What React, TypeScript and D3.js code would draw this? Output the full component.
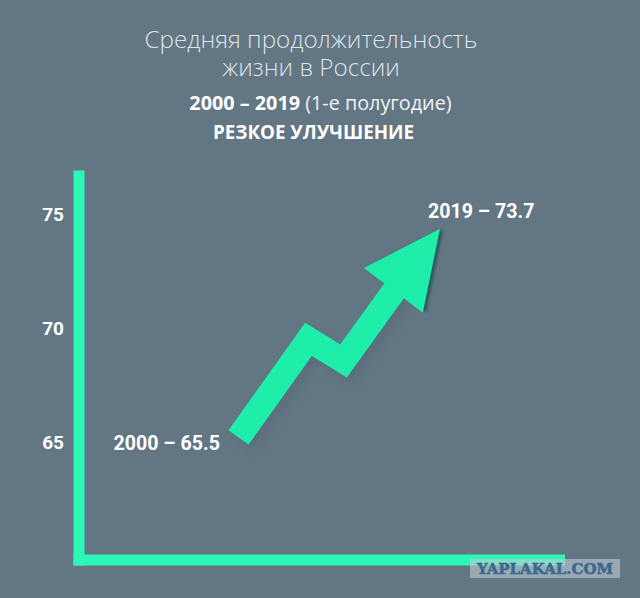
import { useEffect, useRef } from 'react'
import * as d3 from 'd3'

// values, the arrow's centre line
const years = [2000, 2006.6, 2009.9, 2015.25]
const lifeSpan = [65.2, 69.5, 68.55, 72.0]
const headBase = { year: 2014.6, value: 71.65 }
const headTip = { year: 2019, value: 74.35 }
const yTicks = [65, 70, 75]
const endLabels = ['2000 – 65.5', '2019 – 73.7']

const width = 640
const height = 598
const MINT = '#2bf7b7'
const ARROW = '#1feeab'

const x = d3.scaleLinear().domain([2000, 2019]).range([238.5, 440])
const y = d3.scaleLinear().domain([65, 75]).range([442, 214])

const App = () => {
  const axisRef = useRef<SVGGElement>(null)

  useEffect(() => {
    if (!axisRef.current) return
    document.body.style.margin = '0'
    const g = d3.select(axisRef.current)
    g.selectAll('*').remove()
    g.call(d3.axisLeft(y).tickValues(yTicks).tickSize(0).tickPadding(0))
    g.select('.domain').remove()
    g.selectAll('text')
      .style('font-family', 'Roboto')
      .style('font-size', '19px')
      .style('font-weight', '700')
      .style('fill', '#ffffff')
  }, [])

  const shaft = d3
    .line<number>()
    .x((d) => x(d))
    .y((_, i) => y(lifeSpan[i]))(years)!

  // head is a triangle square to the line base -> tip
  const bx = x(headBase.year)
  const by = y(headBase.value)
  const tx = x(headTip.year)
  const ty = y(headTip.value)
  const len = Math.hypot(tx - bx, ty - by)
  const px = (-(ty - by) / len) * 37
  const py = ((tx - bx) / len) * 37
  const head = d3.line()([
    [tx, ty],
    [bx + px, by + py],
    [bx - px, by - py],
  ])! + 'Z'

  return (
    <svg width={width} height={height} style={{ display: 'block' }} fontFamily="'Open Sans'">
      <defs>
        <filter id="soft" x="-30%" y="-30%" width="160%" height="160%">
          <feGaussianBlur stdDeviation="5" />
        </filter>
        <filter id="tight" x="-30%" y="-30%" width="160%" height="160%">
          <feGaussianBlur stdDeviation="1.5" />
        </filter>
      </defs>
      <rect width={width} height={height} fill="#637684" />

      <g textAnchor="middle">
        <text x={311} y={48} fontSize={24.2} fontWeight={300} fill="#dfe5e8">
          Средняя продолжительность
        </text>
        <text x={311} y={76} fontSize={24.2} fontWeight={300} fill="#dfe5e8">
          жизни в России
        </text>
        <text x={320.5} y={110} fontSize={19.8} fill="#f2f4f5">
          <tspan fontWeight={700} fill="#ffffff">2000 – 2019</tspan> (1-е полугодие)
        </text>
        <text x={313.5} y={139} fontSize={18.8} fontWeight={700} fill="#ffffff">
          РЕЗКОЕ УЛУЧШЕНИЕ
        </text>
      </g>

      <g ref={axisRef} transform="translate(64,0)" />

      {/* axis bars */}
      <rect x={73.5} y={170.5} width={11} height={395} fill={MINT} />
      <rect x={73.5} y={554.5} width={491.5} height={11} fill={MINT} />

      {/* arrow shadow */}
      <g fill="none" opacity={0.14} transform="translate(5,7)" filter="url(#soft)">
        <path d={shaft} stroke="#2e3f4a" strokeWidth={24.7} strokeLinejoin="miter" />
      </g>
      <path d={head} fill="#0c4f48" opacity={0.75} transform="translate(3,0)" filter="url(#tight)" />

      {/* arrow */}
      <path d={shaft} fill="none" stroke={ARROW} strokeWidth={24.7} strokeLinejoin="miter" strokeMiterlimit={8} />
      <path d={head} fill={ARROW} />

      <g fontFamily="Roboto" fontSize={19.6} fontWeight={700} fill="#ffffff">
        <text x={220} y={450} textAnchor="end">{endLabels[0]}</text>
        <text x={428} y={218}>{endLabels[1]}</text>
      </g>

      {/* watermark */}
      <rect x={470} y={559} width={150} height={19} fill="#c3ccd2" opacity={0.6} />
      <text x={545} y={574} textAnchor="middle" fontFamily="'DejaVu Serif'" fontSize={14.5} fontWeight={700} fill="#386a90" stroke="#386a90" strokeWidth={0.5} textLength={136} lengthAdjust="spacingAndGlyphs">
        YAPLAKAL.COM
      </text>
    </svg>
  )
}

export default App
